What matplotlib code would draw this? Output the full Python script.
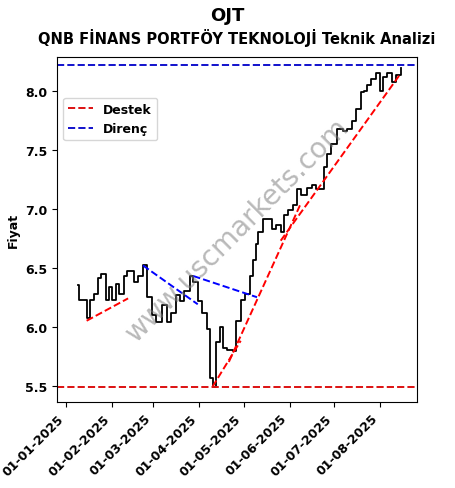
import matplotlib
matplotlib.use("Agg")
import matplotlib.pyplot as plt
import matplotlib.dates as mdates
import pandas as pd
import numpy as np

plt.rcParams['font.weight'] = 'bold'
plt.rcParams['axes.labelweight'] = 'bold'

base = pd.Timestamp("2025-01-01")
days = [8,9,14,16,19,22,24,27,29,31,34,36,39,41,46,49,52,55,58,61,65,68,71,74,77,80,84,86,89,92,95,97,99,101,104,106,109,113,115,118,121,124,126,128,130,133,136,139,142,145,147,150,153,156,159,163,166,169,174,176,179,183,187,190,193,196,199,201,203,206,209,212,214,217,220,223,226]
prices = [6.35,6.23,6.07,6.23,6.28,6.41,6.45,6.23,6.34,6.23,6.36,6.28,6.43,6.47,6.38,6.43,6.52,6.25,6.1,6.04,6.18,6.04,6.12,6.27,6.22,6.30,6.43,6.38,6.22,6.12,5.98,5.56,5.49,5.87,6.0,5.82,5.80,5.79,6.05,6.23,6.28,6.43,6.57,6.70,6.80,6.91,6.91,6.83,6.86,6.80,6.95,6.99,7.03,7.17,7.12,7.18,7.20,7.17,7.36,7.47,7.55,7.68,7.66,7.68,7.75,7.85,7.99,8.0,8.05,8.10,8.15,8.0,8.12,8.15,8.08,8.14,8.20]

support_lines = [((14,6.05),(42,6.24)),((99,5.49),(118,5.88)),((110,5.70),(158,7.03)),((145,6.73),(226,8.15))]
resist_lines = [((52,6.52),(89,6.19)),((86,6.43),(129,6.25))]
support_level = 5.49
resist_level = 8.22
tick_dates = ["2025-01-01","2025-02-01","2025-03-01","2025-04-01","2025-05-01","2025-06-01","2025-07-01","2025-08-01"]

def d(x): return base + pd.Timedelta(days=x)

fig = plt.figure(figsize=(4.55,4.89), dpi=100)
ax = fig.add_axes([57/455, 1-403/489, 360/455, 345/489])
ax.plot([d(x) for x in days], prices, color='black', lw=1.3, drawstyle='steps-post')
for i,(a,b) in enumerate(support_lines):
    ax.plot([d(a[0]),d(b[0])],[a[1],b[1]], 'r--', lw=1.4)
for (a,b) in resist_lines:
    ax.plot([d(a[0]),d(b[0])],[a[1],b[1]], 'b--', lw=1.4)
ax.axhline(support_level, color='#dd1111', ls='--', lw=1.4, label='Destek')
ax.axhline(resist_level, color='#1111cc', ls='--', lw=1.4, label='Direnç')
ax.set_xlim(d(-6), d(237))
ax.set_ylim(5.36, 8.29)
ax.set_xticks([pd.Timestamp(t) for t in tick_dates])
ax.xaxis.set_major_formatter(mdates.DateFormatter('%d-%m-%Y'))
plt.setp(ax.get_xticklabels(), rotation=45, ha='right', fontsize=9)
plt.setp(ax.get_yticklabels(), fontsize=9)
ax.set_ylabel('Fiyat', fontsize=9)
ax.legend(loc='upper left', bbox_to_anchor=(0.0, 0.9), fontsize=9)
ax.text(0.5, 0.5, 'www.uscmarkets.com', transform=ax.transAxes, rotation=45,
        fontsize=20, color='gray', alpha=0.55, ha='center', va='center', fontweight='normal')
fig.text(0.5, 1-16/489, 'OJT', ha='center', va='center', fontsize=13, fontweight='bold')
fig.text(0.52, 1-38/489, 'QNB FİNANS PORTFÖY TEKNOLOJİ Teknik Analizi', ha='center', va='center', fontsize=10.5, fontweight='bold')
fig.savefig('out.png', dpi=100)
